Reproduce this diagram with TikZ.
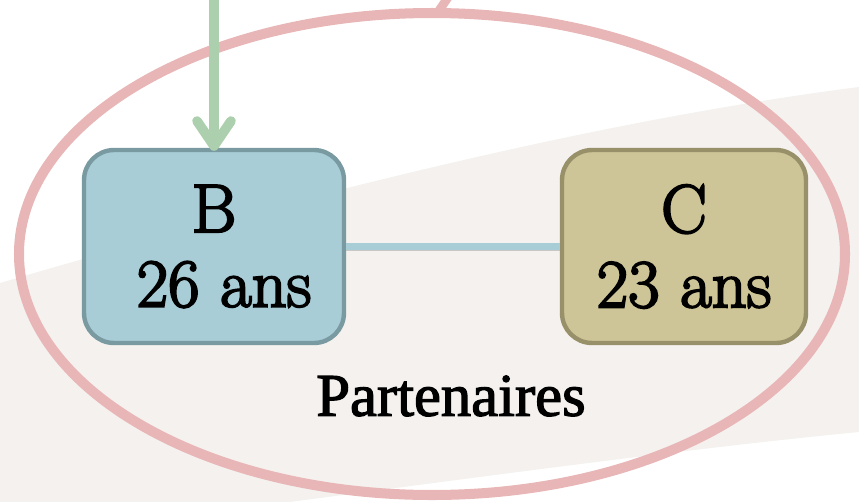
\documentclass[tikz,border=0pt]{standalone}
\usepackage{xcolor}
\usepackage{fontspec}
\usepackage{tikz}
\usetikzlibrary{positioning,arrows.meta}
\newfontfamily\boxfont{Latin Modern Roman}[FakeBold=3]
\newfontfamily\captionfont{Liberation Serif}[FakeBold=2]
\definecolor{boxblue}{HTML}{A8CDD7}
\definecolor{boxblueedge}{HTML}{7A9AA2}
\definecolor{boxkhaki}{HTML}{CDC597}
\definecolor{boxkhakiedge}{HTML}{989069}
\definecolor{ringpink}{HTML}{E8B6B6}
\definecolor{arrowgreen}{HTML}{ACCFAE}
\definecolor{bandbeige}{HTML}{F4F1EE}
\begin{document}
\begin{tikzpicture}[x=0.02cm,y=-0.02cm,
	person/.style={draw,line width=2.5pt,rounded corners=0.6cm,align=center,
		font=\boxfont\fontsize{39}{42.5}\selectfont,minimum height=3.86cm,inner sep=0pt},
	ring/.style={draw=ringpink,line width=5.7pt},
	tie/.style={draw=boxblue,line width=4.5pt,
		preaction={draw=black!45,opacity=0.4,transform canvas={yshift=-0.08cm}}},
	flow/.style={draw=arrowgreen,line width=5.5pt,
		-{Straight Barb[length=0.5cm,width=0.68cm,line cap=round,line join=round]}},
	caption/.style={font=\captionfont\fontsize{34.5}{38}\selectfont}]
		\useasboundingbox (0,0) rectangle (859,501);
		% background band
		\begin{scope}
			\clip (0,0) rectangle (859,501);
			\fill[bandbeige] (0,283) .. controls (300,195) and (600,120) .. (859,87) -- (859,432) .. controls (650,452) and (350,495) .. (0,540) -- cycle;
		\end{scope}
		\draw[ring] (432,254) ellipse [x radius=413, y radius=241];
		\coordinate (ring top) at (438,12);
		\coordinate (ring link) at (449,-4);
		\draw[draw=ringpink,line width=5pt] (ring top) -- (ring link);
		\node[person,fill=boxblue,draw=boxblueedge,minimum width=5.2cm] (B) at (214,246.5) {B\\ \hspace{0.4cm}26 ans};
		\node[person,fill=boxkhaki,draw=boxkhakiedge,minimum width=4.88cm] (C) at (684,246.5) {C\\ 23 ans};
		\draw[tie] (B.east) -- (C.west);
		\coordinate (from above) at (214,-5);
		\draw[flow] (from above) -- ([yshift=-0.06cm]B.north);
		\node[caption] (partners) at (451,396) {Partenaires};
	\end{tikzpicture}
\end{document}
